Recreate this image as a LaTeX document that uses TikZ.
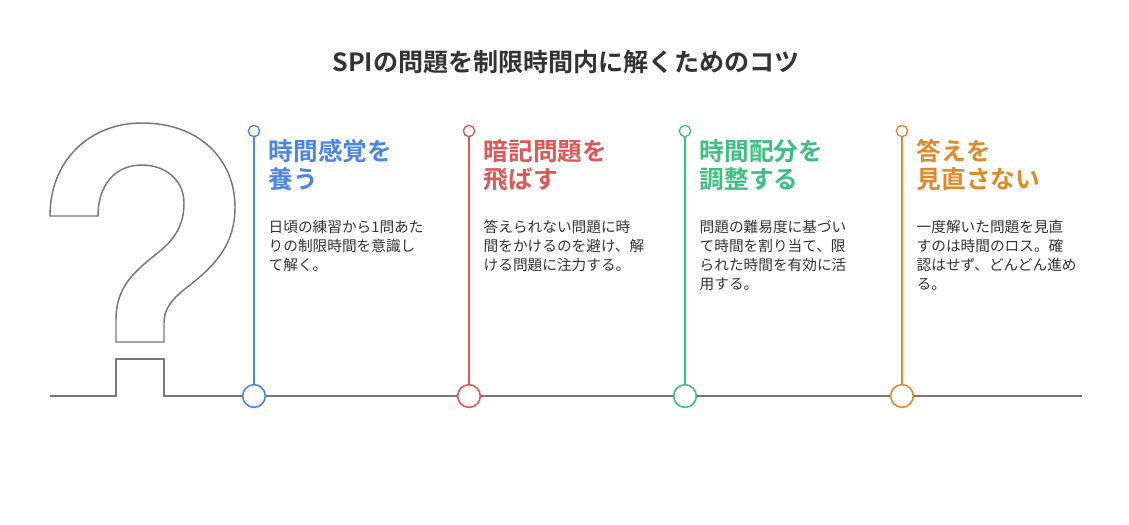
\documentclass[tikz,border=0pt]{standalone}
\usepackage{fontspec}
\setmainfont{Noto Sans CJK JP}
\newfontfamily\jpb{Noto Sans CJK JP Bold}
\begin{document}
\begin{tikzpicture}[x=0.75pt,y=-0.75pt]
\definecolor{cb}{HTML}{4A86E8}\definecolor{cr}{HTML}{E05555}
\definecolor{cg}{HTML}{3DBF7F}\definecolor{co}{HTML}{E0892B}
\definecolor{gl}{HTML}{777777}\definecolor{tx}{HTML}{333333}
\tikzset{
 head/.style={anchor=north west,align=left,font=\jpb\fontsize{18.5}{21}\selectfont},
 body/.style={anchor=north west,align=left,text=tx,font=\fontsize{11}{14.3}\selectfont},
 big/.style={circle,draw,line width=1.2pt,fill=white,minimum size=17pt,inner sep=0pt},
 small/.style={circle,draw,line width=1pt,fill=white,minimum size=8.5pt,inner sep=0pt}}
\useasboundingbox (0,0) rectangle (1129,525);
\node[font=\jpb\fontsize{18.8}{22}\selectfont,text=tx] (title) at (566,62) {SPIの問題を制限時間内に解くためのコツ};
\draw[gl,line width=1.1pt] (50,396) -- (116,396) -- (116,359) -- (164,359) -- (164,396) -- (1082,396);
\draw[gl,line width=1.1pt] (50,216) .. controls (50,160) and (90,123) .. (142,123) .. controls (200,123) and (235,160) .. (235,207) .. controls (235,245) and (215,265) .. (190,285) .. controls (170,300) and (164,310) .. (164,323) -- (164,342) -- (116,342) -- (116,320) .. controls (116,290) and (130,275) .. (155,255) .. controls (175,240) and (184,225) .. (184,203) .. controls (184,180) and (165,165) .. (142,165) .. controls (115,165) and (98,185) .. (98,216) -- cycle;
\foreach \n/\x/\c/\h/\b in {
 1/254/cb/{時間感覚を\\養う}/{日頃の練習から1問あた\\りの制限時間を意識し\\て解く。},
 2/469/cr/{暗記問題を\\飛ばす}/{答えられない問題に時\\間をかけるのを避け、解\\ける問題に注力する。},
 3/685/cg/{時間配分を\\調整する}/{問題の難易度に基づい\\て時間を割り当て、限\\られた時間を有効に活\\用する。},
 4/902/co/{答えを\\見直さない}/{一度解いた問題を見直\\すのは時間のロス。確\\認はせず、どんどん進め\\る。}}{
 \draw[\c,line width=1.2pt] (\x,131) -- (\x,396);
 \node[small,draw=\c] (s\n) at (\x,131) {};
 \node[big,draw=\c] (c\n) at (\x,396) {};
 \node[head,text=\c] (h\n) at (\x+10,135) {\h};
 \node[body] (b\n) at (\x+10,215) {\b};
}
\end{tikzpicture}
\end{document}
